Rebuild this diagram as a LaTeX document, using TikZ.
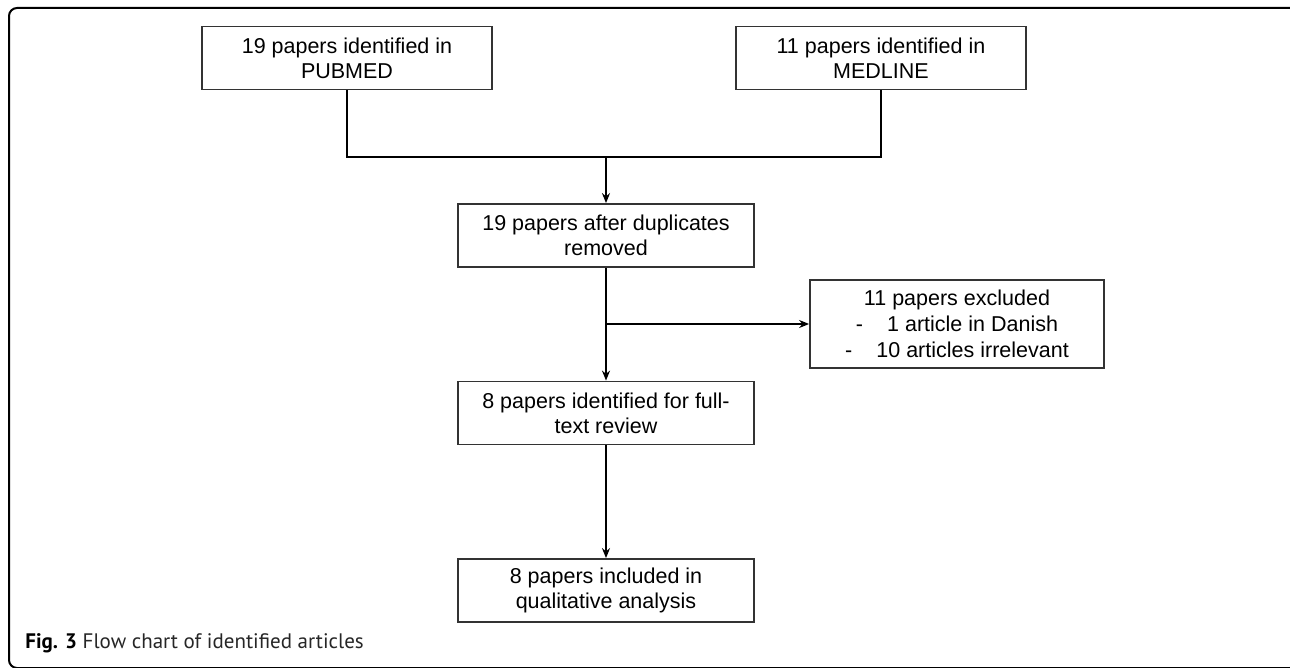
\documentclass[tikz,border=0pt]{standalone}
\usepackage{fontspec}
\setmainfont{Liberation Sans}
\newfontfamily\capfont{PT Sans}
\usetikzlibrary{arrows.meta}

\begin{document}
\begin{tikzpicture}[x=0.5pt, y=-0.5pt, node distance=88.75pt,
        box/.style={rectangle, draw=black!80, line width=0.9pt, align=center, inner sep=0pt,
            minimum width=148pt, minimum height=31.5pt, font=\fontsize{10.75}{12.5}\selectfont},
        flow/.style={-{Stealth[length=5pt, width=4pt]}, line width=0.75pt}]
        \useasboundingbox (0,0) rectangle (1290,668);
        \draw [line width=1pt, rounded corners=4pt] (9,8) rectangle (1298,668);

        \node (pubmed) [box, minimum width=145pt] at (347,58) {19 papers identified in\\PUBMED};
        \node (medline) [box, minimum width=145pt] at (881,58) {11 papers identified in\\MEDLINE};
        \node (dup) [box, below of=pubmed, xshift=129.5pt] {19 papers after duplicates\\removed};
        \node (full) [box, below of=dup] {8 papers identified for full-\\text review};
        \node (final) [box, below of=full] {8 papers included in\\qualitative analysis};
        \node (excl) [box, minimum width=147pt, minimum height=44pt, font=\fontsize{10.75}{13}\selectfont]
            at (957,324) {11 papers excluded\\-\hspace{12pt}1 article in Danish\\-\hspace{12pt}10 articles irrelevant};
        \node (caption) [anchor=base west, inner sep=0pt, text=black!85, font=\capfont\fontsize{10.5}{12}\selectfont]
            at (25,648) {\textbf{\color{black}Fig. 3} Flow chart of identified articles};

        \coordinate (merge) at (dup |- 0,157);
        \coordinate (branch) at (dup |- excl);

        \draw [line width=0.75pt] (pubmed) |- (merge) -| (medline);
        \draw [flow] (merge) -- (dup);
        \draw [flow] (dup) -- (full);
        \draw [flow] (branch) -- (excl);
        \draw [flow] (full) -- (final);
    \end{tikzpicture}
\end{document}
